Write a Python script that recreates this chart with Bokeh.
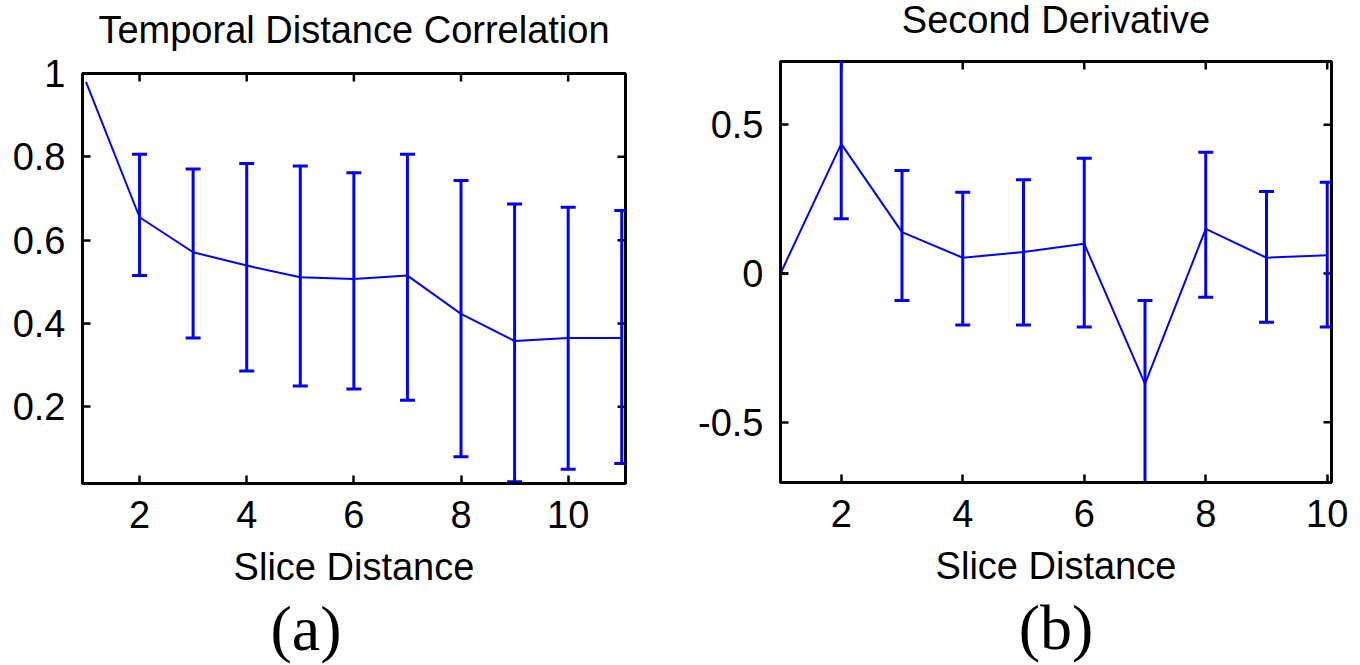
import math
from bokeh.plotting import figure
from bokeh.models import FixedTicker, Range1d, Title
from bokeh.embed import file_html
from bokeh.resources import INLINE

# ---- Panel (a): Temporal Distance Correlation ----
slice_a = [1, 2, 3, 4, 5, 6, 7, 8, 9, 10, 11]
corr_mean = [0.98, 0.655, 0.571, 0.539, 0.511, 0.507, 0.515, 0.423, 0.358, 0.365, 0.365]
err_x_a = [2, 3, 4, 5, 6, 7, 8, 9, 10, 11]
corr_upper = [0.806, 0.771, 0.784, 0.778, 0.762, 0.806, 0.743, 0.687, 0.679, 0.671]
corr_lower = [0.515, 0.365, 0.286, 0.250, 0.243, 0.216, 0.080, 0.020, 0.050, 0.064]
xticks_a = [2, 4, 6, 8, 10]
yticks_a = [0.2, 0.4, 0.6, 0.8, 1.0]
ylabels_a = {0.2: "0.2", 0.4: "0.4", 0.6: "0.6", 0.8: "0.8", 1.0: "1"}

# ---- Panel (b): Second Derivative ----
slice_b = [1, 2, 3, 4, 5, 6, 7, 8, 9, 10]
deriv_mean = [0.0, 0.436, 0.139, 0.053, 0.072, 0.100, -0.371, 0.150, 0.053, 0.061]
deriv_upper = [0.0, 0.75, 0.346, 0.273, 0.315, 0.388, -0.091, 0.408, 0.276, 0.307]
deriv_lower = [0.0, 0.184, -0.091, -0.173, -0.173, -0.180, -0.75, -0.080, -0.164, -0.180]
xticks_b = [2, 4, 6, 8, 10]
yticks_b = [-0.5, 0.0, 0.5]
ylabels_b = {-0.5: "-0.5", 0.0: "0", 0.5: "0.5"}

BLUE = "#0000ff"
FONT = "Liberation Sans"
FS = "38px"


def style_axis(ax, ticks, labels=None):
    ax.ticker = FixedTicker(ticks=ticks)
    ax.major_tick_in = 8
    ax.major_tick_out = 0
    ax.minor_tick_line_color = None
    ax.major_tick_line_width = 2.5
    ax.major_tick_line_color = "black"
    ax.axis_line_width = 3
    ax.axis_line_color = "black"
    if labels is not None:
        ax.major_label_overrides = labels
    ax.major_label_text_font = FONT
    ax.major_label_text_font_size = FS
    ax.major_label_text_color = "black"
    ax.major_label_standoff = 17


def make_panel(title, title_standoff, extra_top, xr, yr, xticks, yticks, ylabels, border,
               tag, tag_align, tag_offset):
    left, right, top, bottom = border
    # the figure is made taller at the top (room for the raised title) and shifted up by CSS
    p = figure(width=680, height=665 + extra_top, x_range=Range1d(*xr), y_range=Range1d(*yr),
               output_backend="svg", toolbar_location=None,
               min_border_left=left, min_border_right=right,
               min_border_top=top + extra_top, min_border_bottom=bottom)
    p.styles = {"margin-top": f"-{extra_top}px"}
    p.grid.visible = False
    p.outline_line_color = "black"
    p.outline_line_width = 3
    p.background_fill_color = "white"
    p.border_fill_color = "white"

    p.title.text = title
    p.title.text_font = FONT
    p.title.text_font_size = FS
    p.title.text_font_style = "normal"
    p.title.text_color = "black"
    p.title.align = "center"
    p.title.standoff = title_standoff

    style_axis(p.xaxis[0], xticks)
    style_axis(p.yaxis[0], yticks, ylabels)
    p.xaxis.axis_label = "Slice Distance"
    p.xaxis.axis_label_text_font = FONT
    p.xaxis.axis_label_text_font_size = FS
    p.xaxis.axis_label_text_font_style = "normal"
    p.xaxis.axis_label_text_color = "black"
    p.xaxis.axis_label_standoff = 15

    # inward ticks on the right and top edges of the box (half-dashes clipped by the frame)
    p.dash([xr[1]] * len(yticks), yticks, size=16, line_width=2.5, color="black")
    p.dash(xticks, [yr[1]] * len(xticks), size=16, angle=math.pi / 2,
           line_width=2.5, color="black")

    p.add_layout(Title(text=tag, align=tag_align, offset=tag_offset,
                       text_font="Liberation Serif", text_font_size="64px",
                       text_font_style="normal", text_color="black", standoff=0), "below")
    return p


xr_a = (0.935, 11.07)
yr_a = (0.016, 1.0)
p1 = make_panel("Temporal Distance Correlation", 46, 22, xr_a, yr_a,
                xticks_a, yticks_a, ylabels_a, (82, 55, 73, 182), "(a)", "left", 188)
p1.line(slice_a, corr_mean, line_width=2, color=BLUE)
p1.segment(x0=err_x_a, y0=corr_lower, x1=err_x_a, y1=corr_upper, line_width=3, color=BLUE)
p1.dash(err_x_a, corr_lower, size=15, line_width=3, color=BLUE)
p1.dash(err_x_a, corr_upper, size=15, line_width=3, color=BLUE)

xr_b = (1.0, 10.07)
yr_b = (-0.703, 0.713)
p2 = make_panel("Second Derivative", 42, 28, xr_b, yr_b,
                xticks_b, yticks_b, ylabels_b, (100, 29, 61, 183), "(b)", "center", 0)
p2.line(slice_b, deriv_mean, line_width=2, color=BLUE)
p2.segment(x0=slice_b, y0=deriv_lower, x1=slice_b, y1=deriv_upper, line_width=3, color=BLUE)
p2.dash(slice_b, deriv_lower, size=15, line_width=3, color=BLUE)
p2.dash(slice_b, deriv_upper, size=15, line_width=3, color=BLUE)

# two independent roots placed side by side (so their frames are not forced to align)
template = """
{% block postamble %}
<style>
  body { display: flex !important; flex-direction: row; align-items: flex-start; margin: 0; overflow: hidden; }
</style>
{% endblock %}
"""
open("out.html", "w").write(file_html([p1, p2], INLINE, template=template))
